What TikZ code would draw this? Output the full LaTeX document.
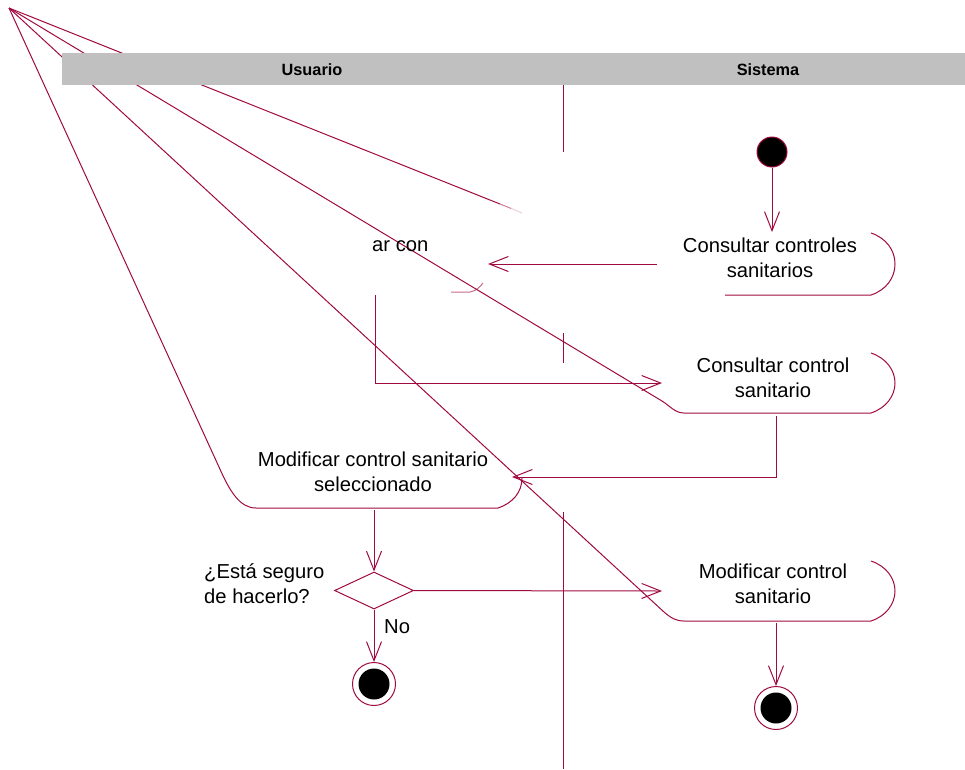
\documentclass[tikz,border=0pt]{standalone}
\usepackage{fontspec}
\setmainfont{Liberation Sans}
\usetikzlibrary{arrows.meta,shapes.geometric}
\definecolor{ln}{RGB}{160,10,64}
\definecolor{hdr}{RGB}{192,192,192}
\begin{document}
\begin{tikzpicture}[x=1pt,y=-1pt,
  edge/.style={draw=ln,line width=1pt},
  arr/.style={draw=ln,line width=1pt,-{Straight Barb[length=19pt,width=15pt]}},
  lbl/.style={font=\fontsize{20.2}{25}\selectfont,inner sep=0pt,align=center,anchor=base},
  hd/.style={font=\fontsize{16.3}{18}\selectfont\bfseries,inner sep=0pt},
  startnode/.style={circle,fill=black,draw=ln,line width=1pt,minimum size=30pt,inner sep=0pt},
  finalring/.style={circle,draw=ln,line width=1pt,minimum size=43pt,inner sep=0pt},
  finaldot/.style={circle,fill=black,minimum size=31pt,inner sep=0pt},
  decision/.style={diamond,draw=ln,line width=1pt,minimum width=79pt,minimum height=37pt,inner sep=0pt}
]
\useasboundingbox (0,0) rectangle (965,769);
% broken left sides of the activity states, all drawn from one point
\coordinate (apex) at (9,8);
\coordinate (d1) at (500,204);
\coordinate (d2) at (511,208.4);
\coordinate (d3) at (522,213);
\draw[edge] (apex) -- (d1);
\draw[edge,opacity=.55] (d1) -- (d2);
\draw[edge,opacity=.2] (d2) -- (d3);
% Consultar control sanitario outline
\draw[edge] (apex) -- (662,401) .. controls (670,406) and (675,413) .. (684,413) -- (871,413)
  .. controls (886,408) and (895,396) .. (895,383) .. controls (895,370) and (886,358) .. (871,353);
% Modificar control sanitario outline
\draw[edge] (apex) -- (664,612) .. controls (671,618) and (676,621) .. (684,621) -- (871,621)
  .. controls (886,616) and (895,604) .. (895,591) .. controls (895,578) and (886,566) .. (871,561);
% Modificar control sanitario seleccionado outline
\draw[edge] (apex) -- (219,467) .. controls (230,492) and (240,508) .. (256,508) -- (498,508)
  .. controls (513,503) and (522,492) .. (522,478);
% Consultar controles sanitarios outline
\draw[edge] (725,295) -- (871,295) .. controls (886,290) and (895,278) .. (895,264)
  .. controls (895,250) and (886,238) .. (871,233);
% remnant of the clipped activity
\draw[edge,opacity=.6] (451,292) -- (470,292) .. controls (476,291) and (480,287) .. (483,283);
% header
\fill[hdr] (62,53) rectangle (965,85);
\node[hd] (usuario) at (312,69.5) {Usuario};
\node[hd] (sistema) at (768,69.5) {Sistema};
% swimlane divider pieces
\draw[edge] (563,85) -- (563,152);
\draw[edge] (563,333) -- (563,363);
\draw[edge] (563,512) -- (563,769);
% texts (anchor = baseline of the last line)
\node[lbl] (t1) at (770,277) {Consultar controles\\sanitarios};
\node[lbl] (t2) at (773,397) {Consultar control\\sanitario};
\node[lbl] (t3) at (773,603) {Modificar control\\sanitario};
\node[lbl] (t4) at (373,491) {Modificar control sanitario\\seleccionado};
\node[lbl,align=left,anchor=base west] (q) at (204,603) {¿Está seguro\\de hacerlo?};
\node[lbl,anchor=base west] (no) at (384,633) {No};
\node[lbl,anchor=base west] (arcon) at (372,251) {ar con};
% states
\node[startnode] (init) at (772,152) {};
\node[decision] (dec) at (374,590.5) {};
\node[finalring] (fin1) at (374,684) {};
\node[finaldot] (fin1i) at (374,684) {};
\node[finalring] (fin2) at (776,708) {};
\node[finaldot] (fin2i) at (776,708) {};
% connector ends
\coordinate (b1top) at (772,232);
\coordinate (b1l) at (657,264);
\coordinate (b0r) at (488,264);
\coordinate (b0b) at (375,295);
\coordinate (b2l) at (662,383);
\coordinate (b2b) at (776,416);
\coordinate (b4r) at (512,477);
\coordinate (b4b) at (374,510);
\coordinate (b3l) at (662,591);
\coordinate (b3b) at (776,623);
% connectors
\draw[arr] (init.south) -- (b1top);
\draw[arr] (b1l) -- (b0r);
\draw[arr] (b0b) |- (b2l);
\draw[arr] (b2b) |- (b4r);
\draw[arr] (b4b) -- (dec.north);
\draw[arr] (dec.east) -- (b3l);
\draw[arr] (dec.south) -- (fin1.north);
\draw[arr] (b3b) -- (fin2.north);
\end{tikzpicture}
\end{document}
